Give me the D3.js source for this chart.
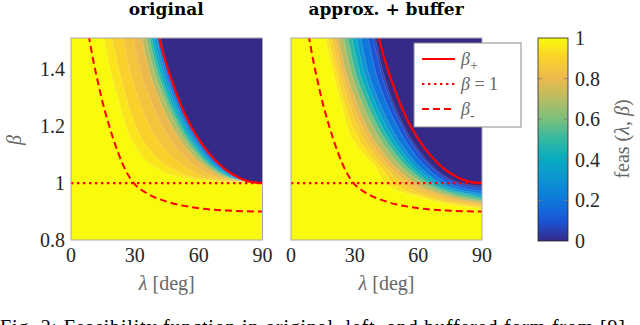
<!DOCTYPE html>
<html>
<head>
<meta charset="utf-8">
<script src="https://cdn.jsdelivr.net/npm/d3@7"></script>
<style>
  body { margin: 0; background: #fff; }
  svg { display: block; }
  text { font-family: "Liberation Serif", "Times New Roman", Tinos, "DejaVu Serif", "Noto Serif", serif; }
  .tick-lbl { font-size: 20px; fill: #262626; }
  .ax-lbl { font-size: 20px; fill: #666; }
  .ttl { font-family: "DejaVu Serif", "Liberation Serif", serif; font-weight: bold; font-size: 17px; fill: #000; }
</style>
</head>
<body>
<div id="chart"></div>
<script>
// feasibility plot, original vs approx + buffer

var lambdaTicks = [0, 30, 60, 90];
var betaTicks = [0.8, 1, 1.2, 1.4];
var cbTicks = [0, 0.2, 0.4, 0.6, 0.8, 1];

// parula colormap stops at 0, 0.1, ... 1
var parulaStops = ["#352a87", "#1b55d7", "#0f77db", "#0d93d2", "#07aac1", "#32b8a1",
                   "#7abf7c", "#b8bd63", "#ecb94c", "#fad12b", "#f9fa0e"];

// contour levels (region >= level gets colour of level)
var levels = [0.05, 0.1, 0.2, 0.3, 0.4, 0.5, 0.6, 0.7, 0.8, 0.85, 0.9, 0.95, 1.0];

// original: lambda where each level crosses these beta rows, all end at (90, 1)
var rowsOrig = [1.52, 1.4, 1.3, 1.2, 1.1, 1.05, 1.02];
var lamOrig = [
  [41.7, 45.5, 50.2, 56.3, 65.3, 72.1, 78.5],
  [41.5, 45.3, 50.0, 56.1, 65.0, 71.8, 78.2],
  [41.0, 44.7, 49.3, 55.4, 64.3, 71.1, 77.6],
  [40.0, 43.8, 48.4, 54.5, 63.4, 70.3, 76.9],
  [38.8, 42.7, 47.4, 53.5, 62.5, 69.5, 76.2],
  [37.6, 41.5, 46.2, 52.4, 61.5, 68.6, 75.4],
  [36.5, 40.3, 45.0, 51.2, 60.4, 67.6, 74.6],
  [35.0, 38.8, 43.5, 49.7, 59.0, 66.4, 73.6],
  [33.0, 36.6, 41.2, 47.4, 56.8, 64.4, 72.0],
  [29.0, 32.5, 37.0, 43.0, 52.5, 60.5, 69.0],
  [24.0, 27.5, 31.5, 37.0, 46.5, 55.0, 64.5],
  [19.0, 22.5, 26.0, 30.5, 39.0, 47.5, 58.0],
  [15.2, 18.4, 22.0, 25.8, 33.0, 41.0, 52.0]
];
var endOrig = [1, 1, 1, 1, 1, 1, 1, 1, 1, 1, 1, 1, 1];

// approx + buffer
var rowsBuf = [1.52, 1.4, 1.3, 1.2, 1.1, 1.05, 1.0, 0.95];
var lamBuf = [
  [39.5, 43.0, 47.3, 53.2, 61.8, 68.0, 80.0, null],
  [38.5, 42.0, 46.3, 52.2, 60.7, 66.8, 77.0, null],
  [36.0, 39.5, 44.0, 50.0, 58.5, 64.5, 74.0, null],
  [32.5, 36.0, 40.7, 46.8, 55.5, 61.5, 71.0, null],
  [30.5, 34.0, 38.7, 44.8, 53.5, 59.5, 69.0, null],
  [28.5, 32.0, 36.7, 42.8, 51.5, 57.5, 66.5, 89.0],
  [26.5, 30.0, 34.7, 40.8, 49.5, 55.5, 64.5, 85.0],
  [24.5, 28.0, 32.5, 38.5, 47.0, 53.0, 62.0, 80.0],
  [22.0, 25.5, 30.0, 35.5, 44.0, 50.0, 58.5, 76.0],
  [20.5, 24.0, 28.0, 33.5, 41.5, 47.5, 55.5, 72.0],
  [19.0, 22.5, 26.3, 31.3, 39.3, 45.3, 52.0, 68.0],
  [17.5, 21.0, 24.5, 29.0, 37.0, 43.0, 48.0, 64.0],
  [16.0, 19.5, 23.0, 26.5, 34.5, 40.5, 44.0, 61.0]
];
var endBuf = [0.99, 0.982, 0.972, 0.963, 0.955, 0.948, 0.943, 0.937, 0.93, 0.925, 0.92, 0.915, 0.91];

var betaPlus = [[41.1, 1.52], [43.5, 1.45], [45.6, 1.4], [47.9, 1.35], [50.3, 1.3], [53.1, 1.25],
                [56.4, 1.2], [60.4, 1.15], [65.4, 1.1], [72.2, 1.05], [78.6, 1.02], [84, 1.005], [90, 1.0]];
var betaMinus = [[8.3, 1.52], [10.5, 1.43], [12.5, 1.36], [15, 1.28], [18, 1.2], [22, 1.11], [26, 1.04],
                 [29.5, 1.0], [35, 0.967], [45, 0.935], [60, 0.912], [75, 0.903], [90, 0.9]];

var width = 640, height = 325;

var svg = d3.select("#chart").append("svg")
    .attr("width", width)
    .attr("height", height);

var parula = d3.scaleLinear()
    .domain(d3.range(11).map(function(i) { return i / 10; }))
    .range(parulaStops);

var y = d3.scaleLinear().domain([0.8, 1.51]).range([240, 38]);

var panels = [
  {x0: 71, x1: 262.5, title: "original", rows: rowsOrig, lams: lamOrig, ends: endOrig, yAxis: true},
  {x0: 291, x1: 482, title: "approx. + buffer", rows: rowsBuf, lams: lamBuf, ends: endBuf, yAxis: false}
];

panels.forEach(function(p, pi) {
  var x = d3.scaleLinear().domain([0, 90]).range([p.x0, p.x1]);
  var line = d3.line()
      .x(function(d) { return x(d[0]); })
      .y(function(d) { return y(d[1]); })
      .curve(d3.curveMonotoneX);

  svg.append("clipPath").attr("id", "clip" + pi)
    .append("rect")
      .attr("x", p.x0).attr("y", y(1.51))
      .attr("width", p.x1 - p.x0).attr("height", y(0.8) - y(1.51));

  var g = svg.append("g").attr("clip-path", "url(#clip" + pi + ")");

  // zero region
  g.append("rect")
      .attr("x", p.x0).attr("y", y(1.51))
      .attr("width", p.x1 - p.x0).attr("height", y(0.8) - y(1.51))
      .style("fill", parula(0));

  levels.forEach(function(lv, k) {
    var pts = [];
    p.lams[k].forEach(function(l, i) { if (l != null) pts.push([l, p.rows[i]]); });
    pts.push([90, p.ends[k]]);
    var d = line(pts);
    var region = "M" + x(-5) + "," + y(1.6) + "L" + x(pts[0][0]) + "," + y(1.6) +
        "L" + d.slice(1) +
        "L" + x(95) + "," + y(p.ends[k]) + "L" + x(95) + "," + y(0.7) +
        "L" + x(-5) + "," + y(0.7) + "Z";
    g.append("path")
        .attr("d", region)
        .style("fill", parula(lv));
    g.append("path")
        .attr("d", d)
        .style("fill", "none")
        .style("stroke", "#fff")
        .style("stroke-opacity", 0.3)
        .style("stroke-width", 0.6);
  });

  // beta lines
  var red = "#ff0000";
  g.append("path").datum(betaPlus)
      .attr("d", line)
      .style("fill", "none").style("stroke", red).style("stroke-width", 2.2);
  g.append("path").datum(betaMinus)
      .attr("d", line)
      .style("fill", "none").style("stroke", red).style("stroke-width", 2)
      .style("stroke-dasharray", "7,4");
  g.append("line")
      .attr("x1", x(0)).attr("x2", x(90))
      .attr("y1", y(1)).attr("y2", y(1))
      .style("stroke", red).style("stroke-width", 2.2)
      .style("stroke-dasharray", "2.4,3.6");

  // frame
  svg.append("rect")
      .attr("x", p.x0).attr("y", y(1.51))
      .attr("width", p.x1 - p.x0).attr("height", y(0.8) - y(1.51))
      .style("fill", "none").style("stroke", "#a8a8a8").style("stroke-width", 1);

  // x tick labels
  svg.selectAll(null).data(lambdaTicks).enter().append("text")
      .attr("class", "tick-lbl")
      .attr("x", function(d) { return x(d); })
      .attr("y", 262)
      .attr("text-anchor", "middle")
      .text(function(d) { return d; });

  var xl = svg.append("text")
      .attr("class", "ax-lbl")
      .attr("x", (p.x0 + p.x1) / 2)
      .attr("y", 290)
      .attr("text-anchor", "middle");
  xl.append("tspan").style("font-style", "italic").text("λ");
  xl.append("tspan").text(" [deg]");

  svg.append("text")
      .attr("class", "ttl")
      .attr("x", (p.x0 + p.x1) / 2 - 0.5)
      .attr("y", 15)
      .attr("text-anchor", "middle")
      .text(p.title);

  if (p.yAxis) {
    svg.selectAll(null).data(betaTicks).enter().append("text")
        .attr("class", "tick-lbl")
        .attr("x", 65)
        .attr("y", function(d) { return y(d) + 7; })
        .attr("text-anchor", "end")
        .text(function(d) { return d; });
    svg.append("text")
        .attr("class", "ax-lbl")
        .attr("transform", "translate(21,140) rotate(-90)")
        .attr("text-anchor", "middle")
        .style("font-style", "italic")
        .text("β");
  }
});

// legend
var leg = svg.append("g").attr("transform", "translate(414,43)");
leg.append("rect")
    .attr("width", 107).attr("height", 84)
    .style("fill", "#fff").style("stroke", "#8a8a8a").style("stroke-width", 1);
var legItems = [
  {dash: null, sub: "+", rest: ""},
  {dash: "2.4,3.6", sub: "", rest: " = 1"},
  {dash: "7,4", sub: "-", rest: ""}
];
legItems.forEach(function(it, i) {
  var yy = 16 + i * 25;
  leg.append("line")
      .attr("x1", 8).attr("x2", 41)
      .attr("y1", yy).attr("y2", yy)
      .style("stroke", "#ff0000").style("stroke-width", 2.2)
      .style("stroke-dasharray", it.dash);
  var t = leg.append("text")
      .attr("class", "ax-lbl")
      .style("font-size", "18px")
      .attr("x", 47).attr("y", yy + 6);
  t.append("tspan").style("font-style", "italic").text("β");
  if (it.sub) t.append("tspan").attr("dy", 5).style("font-size", "14px").text(it.sub);
  if (it.rest) t.append("tspan").text(it.rest);
});

// colorbar
var cy = d3.scaleLinear().domain([0, 1]).range([241, 38]);
var grad = svg.append("defs").append("linearGradient")
    .attr("id", "cbgrad")
    .attr("x1", 0).attr("y1", 1).attr("x2", 0).attr("y2", 0);
parulaStops.forEach(function(c, i) {
  grad.append("stop").attr("offset", (i * 10) + "%").attr("stop-color", c);
});
svg.append("rect")
    .attr("x", 538).attr("y", cy(1))
    .attr("width", 30).attr("height", cy(0) - cy(1))
    .style("fill", "url(#cbgrad)")
    .style("stroke", "#262626").style("stroke-width", 0.8);
svg.selectAll(null).data(cbTicks.slice(1, 5)).enter().append("path")
    .attr("d", function(d) {
      return "M538," + cy(d) + "h4M568," + cy(d) + "h-4";
    })
    .style("stroke", "#777").style("stroke-width", 0.8);
svg.selectAll(null).data(cbTicks).enter().append("text")
    .attr("class", "tick-lbl")
    .attr("x", 575)
    .attr("y", function(d) { return cy(d) + 7; })
    .text(function(d) { return d; });
var cl = svg.append("text")
    .attr("class", "ax-lbl")
    .attr("transform", "translate(629,139) rotate(-90)")
    .attr("text-anchor", "middle");
cl.append("tspan").text("feas (");
cl.append("tspan").style("font-style", "italic").text("λ");
cl.append("tspan").text(", ");
cl.append("tspan").style("font-style", "italic").text("β");
cl.append("tspan").text(")");

// caption, cut off by the bottom edge
svg.append("text")
    .attr("x", 0).attr("y", 334)
    .attr("textLength", 625)
    .style("font-size", "20px")
    .style("fill", "#000")
    .text("Fig. 2: Feasibility function in original, left, and buffered form from [9]");
</script>
</body>
</html>
